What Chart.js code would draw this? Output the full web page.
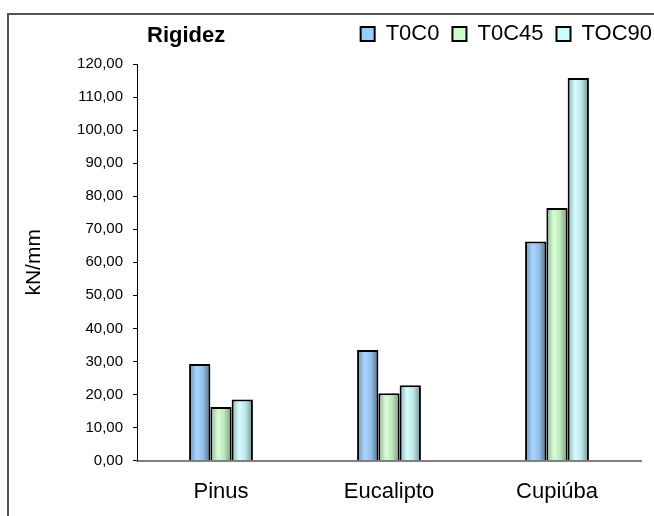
<!DOCTYPE html>
<html>
<head>
<meta charset="utf-8">
<script src="https://cdn.jsdelivr.net/npm/chart.js@4/dist/chart.umd.min.js"></script>
<style>
  html, body { margin: 0; padding: 0; background: #fff; overflow: hidden; }
  #wrap { position: relative; width: 654px; height: 516px; overflow: hidden; }
  #frame { position: absolute; left: 7px; top: 13px; width: 700px; height: 600px;
           border-left: 2px solid #555; border-top: 2px solid #555; }
  #myChart { position: absolute; left: 0; top: 0; }
  #title { position: absolute; left: 147px; top: 22px; line-height: 22px;
           font: bold 22px "Liberation Sans", Arial, sans-serif; color: #000; }
</style>
</head>
<body>
<div id="wrap">
  <div id="frame"></div>
  <canvas id="myChart" width="654" height="516"></canvas>
  <div id="title">Rigidez</div>
</div>
<script>
'use strict';

let categories = ['Pinus', 'Eucalipto', 'Cupiúba'];
let seriesNames = ['T0C0', 'T0C45', 'TOC90'];

// rigidez em kN/mm
let t0c0 = [29.2, 33.5, 66.3];
let t0c45 = [16.2, 20.4, 76.4];
let toc90 = [18.5, 22.8, 115.8];

let yMin = 0;
let yMax = 120;
let yStep = 10;

let baseColors = ['#99ccff', '#ccffcc', '#ccffff'];
// dark edge / light / mid / dark edge
let shades = [
    ['#6d8cad', '#aad6ff', '#93bfea', '#55708d'],
    ['#8fae8f', '#d6ffd6', '#bde6bd', '#77927a'],
    ['#8fb0b0', '#d6ffff', '#bde6e6', '#6f8c8c']
];

const FONT = '"Liberation Sans", Arial, sans-serif';

// cylinder-like shading on every bar
const barShade = {
    id: 'barShade',
    beforeDatasetsDraw(chart) {
        const ctx = chart.ctx;
        chart.data.datasets.forEach((ds, di) => {
            const meta = chart.getDatasetMeta(di);
            meta.data.forEach(el => {
                const x0 = el.x - el.width / 2;
                const x1 = el.x + el.width / 2;
                const g = ctx.createLinearGradient(x0, 0, x1, 0);
                const s = shades[di];
                g.addColorStop(0, s[0]);
                g.addColorStop(0.35, s[1]);
                g.addColorStop(0.65, s[2]);
                g.addColorStop(1, s[3]);
                el.options = Object.assign({}, el.options, { backgroundColor: g });
            });
        });
    }
};

// legend sits a little further right than the layout box allows
const legendNudge = {
    id: 'legendNudge',
    afterLayout(chart) {
        chart.legend.left += 11;
        chart.legend.right += 11;
    }
};

let seriesValues = [t0c0, t0c45, toc90];

let ctx = document.getElementById('myChart').getContext('2d');

let myChart = new Chart(ctx, {
    type: 'bar',
    data: {
        labels: categories,
        datasets: seriesNames.map((name, i) => ({
            label: name,
            data: seriesValues[i],
            backgroundColor: baseColors[i],
            borderColor: '#000',
            borderWidth: 2,
            borderSkipped: 'bottom',
            categoryPercentage: 0.38,
            barPercentage: 1
        }))
    },
    options: {
        responsive: false,
        animation: false,
        layout: { padding: { top: 10, left: 0, right: 0, bottom: -7 } },
        plugins: {
            legend: {
                position: 'top',
                align: 'end',
                labels: {
                    color: '#000',
                    font: { family: FONT, size: 22 },
                    boxWidth: 14,
                    boxHeight: 14,
                    padding: 13
                }
            },
            title: { display: false },
            tooltip: { enabled: false }
        },
        scales: {
            x: {
                type: 'category',
                offset: true,
                grid: { display: false, drawTicks: false },
                border: { display: true, color: '#808080', width: 2 },
                ticks: {
                    color: '#000',
                    font: { family: FONT, size: 22 },
                    padding: 18,
                    maxRotation: 0
                }
            },
            xTop: {
                type: 'category',
                position: 'top',
                grid: { display: false, drawTicks: false },
                border: { display: false },
                ticks: { display: false },
                afterFit(s) { s.height = 9; }
            },
            y: {
                type: 'linear',
                position: 'left',
                min: yMin,
                max: yMax,
                grid: { drawOnChartArea: false, drawTicks: true, tickLength: 4, color: '#000', lineWidth: 1 },
                border: { display: true, color: '#000', width: 1 },
                ticks: {
                    stepSize: yStep,
                    color: '#000',
                    font: { family: FONT, size: 15 },
                    padding: 10,
                    callback: v => v.toFixed(2).replace('.', ',')
                },
                title: {
                    display: true,
                    text: 'kN/mm',
                    color: '#000',
                    font: { family: FONT, size: 21 },
                    padding: { top: 22, bottom: 0 }
                },
                afterFit(s) { s.width = 137; }
            },
            yRight: {
                type: 'linear',
                position: 'right',
                grid: { display: false, drawTicks: false },
                border: { display: false },
                ticks: { display: false },
                afterFit(s) { s.width = 13; }
            }
        }
    },
    plugins: [barShade, legendNudge]
});
</script>
</body>
</html>
